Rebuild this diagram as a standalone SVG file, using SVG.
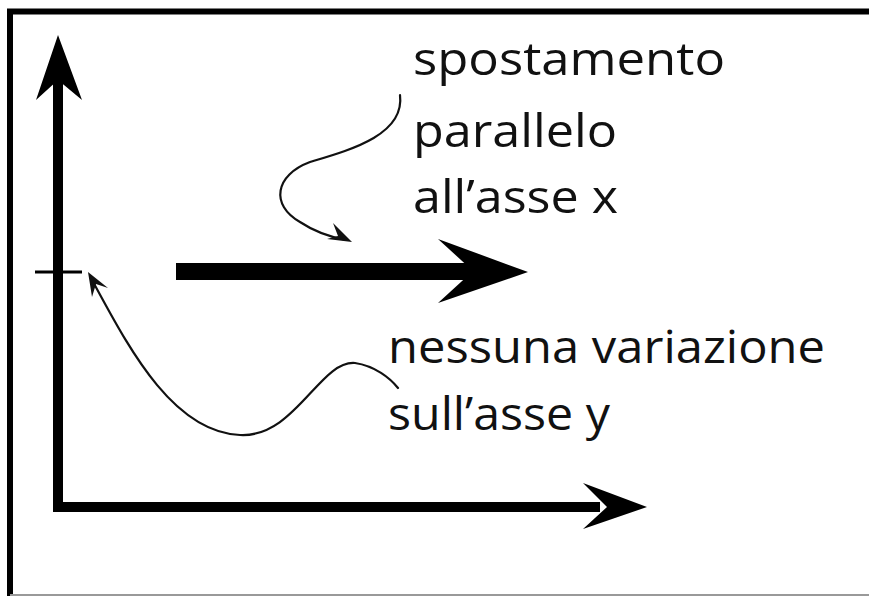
<svg xmlns="http://www.w3.org/2000/svg" width="869" height="596" viewBox="0 0 869 596">
<style>
.lbl{font-family:"Open Sans","Noto Sans","Liberation Sans",sans-serif;font-size:46px;fill:#111}
.thin{fill:none;stroke:#111;stroke-width:2.2;stroke-linecap:round}
.ax{fill:none;stroke:#000;stroke-width:10}
</style>
<rect width="869" height="596" fill="#fff"/>
<g id="frame">
<path d="M10,596 V11.5 H869" fill="none" stroke="#000" stroke-width="6"/>
<line x1="10" y1="595" x2="869" y2="595" stroke="#999" stroke-width="2"/>
</g>
<g id="axes">
<path class="ax" d="M58,80 V507 H600"/>
<polygon points="58,35 82,100 58,80 36,100" fill="#000"/>
<polygon points="647,507 583,483 607,507 583,529" fill="#000"/>
<line x1="35" y1="272" x2="82" y2="272" stroke="#000" stroke-width="3"/>
</g>
<g id="big-arrow">
<rect x="176" y="263" width="300" height="17" fill="#000"/>
<polygon points="528,272 438,239 473,271 438,303" fill="#000"/>
</g>
<g id="connectors">
<path class="thin" d="M400,95 C405,135 350,150 310,162 C275,175 270,205 300,222 C315,232 330,237 346,240"/>
<polygon points="352,242 333,223 338,236 327,239" fill="#111"/>
<path class="thin" d="M92,280 C125,340 170,432 240,435 C295,438 320,360 355,363 C375,366 390,378 398,388"/>
<polygon points="88,272 108,288 96,284 92,297" fill="#111"/>
</g>
<g id="label-x">
<text class="lbl" x="413" y="75" textLength="312" lengthAdjust="spacingAndGlyphs">spostamento</text>
<text class="lbl" x="413" y="147" textLength="204" lengthAdjust="spacingAndGlyphs">parallelo</text>
<text class="lbl" x="413" y="213" textLength="205" lengthAdjust="spacingAndGlyphs">all’asse x</text>
</g>
<g id="label-y">
<text class="lbl" x="388" y="363" textLength="437" lengthAdjust="spacingAndGlyphs">nessuna variazione</text>
<text class="lbl" x="388" y="430" textLength="222" lengthAdjust="spacingAndGlyphs">sull’asse y</text>
</g>
</svg>
